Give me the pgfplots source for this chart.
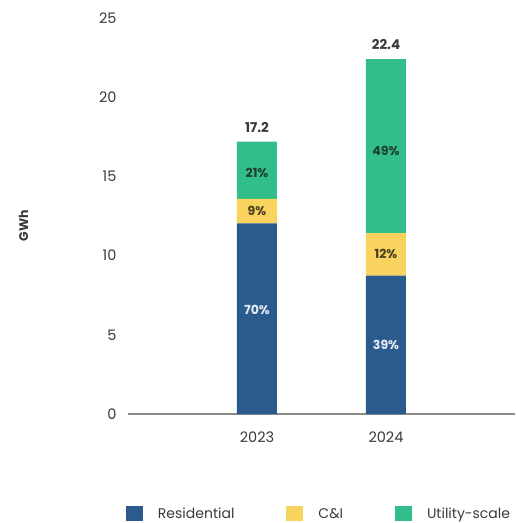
\documentclass[border=0pt]{standalone}
\usepackage{fontspec}
\setmainfont{Poppins}
\usepackage{pgfplots}
\pgfplotsset{compat=1.18}
\definecolor{resblue}{HTML}{2B5A8C}
\definecolor{ciyellow}{HTML}{F8D35E}
\definecolor{utilgreen}{HTML}{32BE8A}
\definecolor{axisgray}{HTML}{8A8A8A}
\definecolor{labeltext}{HTML}{3A3A3A}
\definecolor{ongreen}{HTML}{1E3F30}
\definecolor{onyellow}{HTML}{4A3F22}
\definecolor{onblue}{HTML}{E4ECF5}
\tikzset{barlabel/.style={font=\fontsize{12.5}{14}\selectfont\bfseries},
         totallabel/.style={font=\fontsize{13.5}{15}\selectfont\bfseries}}
\begin{document}
\begin{tikzpicture}[x=1pt,y=1pt]
\useasboundingbox (0,0) rectangle (515,523);
\begin{axis}[
  at={(128pt,109pt)}, anchor=south west,
  scale only axis, width=387pt, height=396pt,
  ybar stacked, bar width=40pt,
  xmin=-1, xmax=2, ymin=0, ymax=25,
  xtick={0,1}, xticklabels={2023,2024},
  ytick={0,5,10,15,20,25},
  axis x line*=bottom, axis y line*=left,
  x axis line style={draw=axisgray, line width=1.2pt, -},
  y axis line style={draw=none, -},
  major tick length=0pt,
  /pgf/number format/assume math mode=true,
  tick label style={font=\fontsize{14.5}{16}\selectfont, text=labeltext},
  xticklabel style={yshift=-14pt},
  yticklabel style={xshift=-8pt},
  ylabel={GWh},
  ylabel style={at={(rel axis cs:-0.27,0.475)}, anchor=center,
    font=\fontsize{12.5}{14}\selectfont\bfseries, text=labeltext},
  legend columns=3,
  legend style={at={(0.4935,-0.2525)}, anchor=center, draw=none, fill=none,
    inner sep=0pt, font=\fontsize{14}{16}\selectfont, text=labeltext,
    /tikz/every even column/.append style={column sep=50pt}},
  legend image code/.code={\fill[#1] (0pt,-7.5pt) rectangle (17pt,7.5pt);},
  clip=false,
]
% Residential, C&I, Utility-scale (GWh), from shares of the annual totals
\addplot[fill=resblue, draw=none] coordinates {(0,12.04) (1,8.736)};
\addlegendentry{\hspace{13pt}Residential}
\addplot[fill=ciyellow, draw=none] coordinates {(0,1.548) (1,2.688)};
\addlegendentry{\hspace{13pt}C\&I}
\addplot[fill=utilgreen, draw=none] coordinates {(0,3.612) (1,10.976)};
\addlegendentry{\hspace{13pt}Utility-scale}

% anchor points for the segment labels
\coordinate (r23) at (axis cs:0,6.6);
\coordinate (c23) at (axis cs:0,12.814);
\coordinate (u23) at (axis cs:0,15.2);
\coordinate (t23) at (axis cs:0,17.55);
\coordinate (r24) at (axis cs:1,4.368);
\coordinate (c24) at (axis cs:1,10.08);
\coordinate (u24) at (axis cs:1,16.6);
\coordinate (t24) at (axis cs:1,22.75);
\end{axis}
\node[barlabel, text=onblue] at (r23) {70\%};
\node[barlabel, text=onyellow] at (c23) {9\%};
\node[barlabel, text=ongreen] at (u23) {21\%};
\node[totallabel, text=labeltext, anchor=south] at (t23) {17.2};
\node[barlabel, text=onblue] at (r24) {39\%};
\node[barlabel, text=onyellow] at (c24) {12\%};
\node[barlabel, text=ongreen] at (u24) {49\%};
\node[totallabel, text=labeltext, anchor=south] at (t24) {22.4};
\end{tikzpicture}
\end{document}
